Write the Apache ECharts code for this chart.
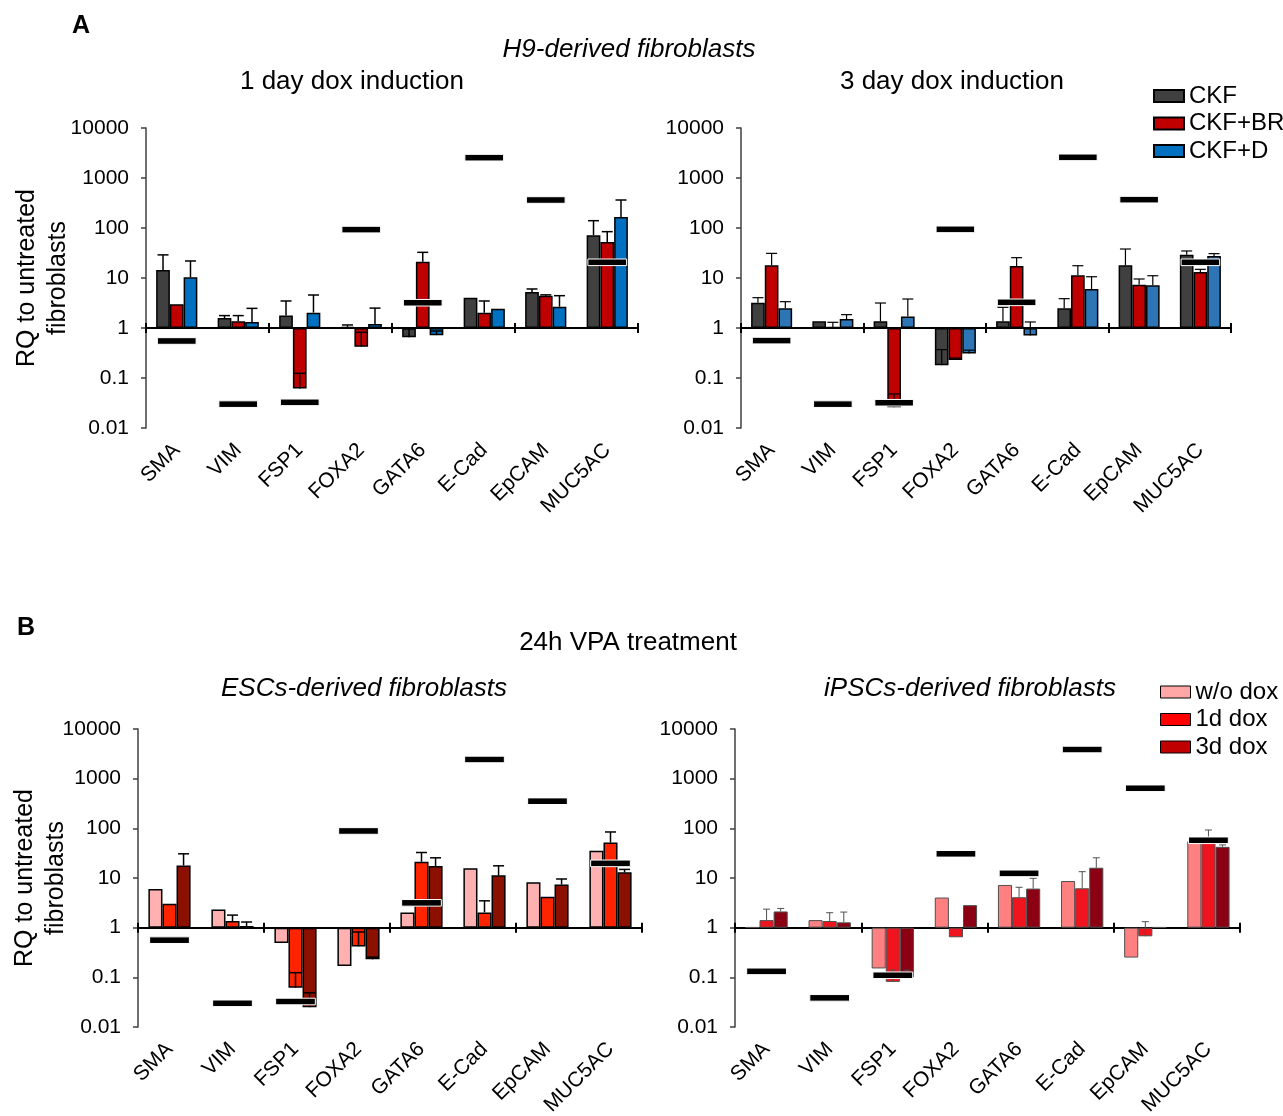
<!DOCTYPE html>
<html>
<head>
<meta charset="utf-8">
<script src="https://cdn.jsdelivr.net/npm/echarts@6/dist/echarts.min.js"></script>
<style>html,body{margin:0;padding:0;background:#fff;}#c{width:1283px;height:1116px;}</style>
</head>
<body>
<div id="c"></div>
<script>
// ---------- DATA ----------
const genes = ['SMA','VIM','FSP1','FOXA2','GATA6','E-Cad','EpCAM','MUC5AC'];
const yTickLabels = ['0.01','0.1','1','10','100','1000','10000'];
const legendA = ['CKF','CKF+BR','CKF+D'];
const legendB = ['w/o dox','1d dox','3d dox'];

// Panel A, 1 day dox induction
const a1CKF    = [14.5, 1.58, 1.77, 1.05, 0.65, 4.04, 5.25, 72];
const a1CKFErr = [29, 1.77, 3.47, 1.15, 0.97, null, 6.03, 140];
const a1BR     = [3.0, 1.36, 0.062, 0.42, 21.2, 2.03, 4.43, 52.5];
const a1BRErr  = [null, 1.77, 0.124, 0.82, 32.6, 3.47, 4.6, 84.5];
const a1D      = [10.3, 1.32, 2.03, 1.2, 0.72, 2.44, 2.67, 166];
const a1DErr   = [21.9, 2.47, 4.57, 2.5, 0.87, null, 4.43, 363];
const a1Ref    = [0.55, 0.030, 0.0326, 93, 3.2, 2550, 363, 20.6];

// Panel A, 3 day dox induction
const a2CKF    = [3.21, 1.36, 1.36, 0.18, 1.36, 2.47, 17.9, 29.3];
const a2CKFErr = [4.04, null, 3.16, 0.37, 2.59, 3.86, 38, 34.7];
const a2BR     = [17.9, 1.04, 0.026, 0.23, 17.4, 11.3, 7.36, 13.2];
const a2BRErr  = [31.1, 1.3, 0.048, 0.25, 25.5, 17.6, 9.55, 14.9];
const a2D      = [2.47, 1.51, 1.69, 0.31, 0.71, 6.03, 7.13, 27.5];
const a2DErr   = [3.36, 1.85, 3.8, 0.36, 1.32, 10.6, 11.1, 30.7];
const a2Ref    = [0.56, 0.030, 0.032, 94, 3.26, 2590, 369, 20.6];

// Panel B, ESCs-derived fibroblasts
const b1Wo     = [6.03, 2.33, 0.49, 0.17, 2.03, 15.8, 8.2, 35.2];
const b1WoErr  = [null, null, null, null, null, null, null, null];
const b1D1     = [3.02, 1.36, 0.062, 0.42, 21.2, 2.03, 4.17, 51.7];
const b1D1Err  = [null, 1.79, 0.124, 0.82, 32.6, 3.47, null, 84.5];
const b1D3     = [17.9, 1.08, 0.025, 0.23, 17.4, 11.3, 7.36, 13];
const b1D3Err  = [30.7, 1.3, 0.049, 0.255, 25.5, 17.6, 9.55, 14.9];
const b1Ref    = [0.56, 0.030, 0.0326, 88.5, 3.16, 2436, 352, 19.7];

// Panel B, iPSCs-derived fibroblasts
const b2Wo     = [1.02, 1.42, 0.151, 4.04, 7.24, 8.7, 0.25, 55];
const b2WoErr  = [null, null, null, null, null, null, null, null];
const b2D1     = [1.42, 1.36, 0.081, 0.64, 4.1, 6.21, 0.67, 55];
const b2D1Err  = [2.36, 2.0, 0.14, null, 6.5, 13.4, 1.32, 92.6];
const b2D3     = [2.12, 1.28, 0.10, 2.84, 6.12, 16.1, 1.02, 42.4];
const b2D3Err  = [2.44, 2.06, 0.14, null, 9.85, 25.5, null, 46.4];
const b2Ref    = [0.132, 0.0386, 0.11, 30.7, 12.4, 3863, 641, 57.5];

// ---------- BUILD ----------
const FONT = '"Liberation Sans", Arial, Helvetica, sans-serif';
const lg = v => Math.log10(v);

const grids = [
  {left:146, top:128, width:492, height:300},
  {left:741, top:128, width:490, height:300},
  {left:138, top:729, width:504, height:298},
  {left:735, top:729, width:505, height:298}
];

const xAxes = [], yAxes = [], series = [];

grids.forEach((g, k) => {
  xAxes.push({gridIndex:k, type:'category', data:genes, position:'bottom',
    axisLine:{onZero:true, onZeroAxisIndex:k, lineStyle:{color:'#000', width:2}},
    axisTick:{show:true, length:5, lineStyle:{color:'#000', width:2}},
    axisLabel:{show:false}, splitLine:{show:false}});
  xAxes.push({gridIndex:k, type:'category', data:genes, position:'top',
    axisLine:{onZero:true, onZeroAxisIndex:k, show:false},
    axisTick:{show:true, length:5, lineStyle:{color:'#000', width:2}},
    axisLabel:{show:false}, splitLine:{show:false}});
  xAxes.push({gridIndex:k, type:'category', data:genes, position:'bottom',
    axisLine:{onZero:false, show:false}, axisTick:{show:false},
    axisLabel:{show:true, interval:0, rotate:45, fontSize:21, margin:19, color:'#000', fontFamily:FONT},
    splitLine:{show:false}});
  const y = {gridIndex:k, type:'value', min:-2, max:4, interval:1,
    axisLine:{show:true, lineStyle:{color:'#404040', width:1.5}},
    axisTick:{show:true, length:5, lineStyle:{color:'#404040', width:1.5}},
    axisLabel:{fontSize:21, color:'#000', margin:17, fontFamily:FONT,
      formatter: v => yTickLabels[Math.round(v) + 2]},
    splitLine:{show:false}};
  if (k === 0 || k === 2) {
    y.name = 'RQ to untreated\nfibroblasts';
    y.nameLocation = 'middle';
    y.nameMoveOverlap = false;
    y.nameGap = k === 0 ? 72 : 66;
    y.nameTextStyle = {fontSize:25, lineHeight:31, color:'#000', fontFamily:FONT};
  }
  yAxes.push(y);
});

function addBars(k, name, vals, color, border, bw) {
  series.push({type:'bar', name, xAxisIndex:3*k, yAxisIndex:k,
    data: vals.map(v => lg(v)), barCategoryGap:'33%', barGap:'0%', z:2,
    itemStyle:{color, borderColor:border, borderWidth:bw}, emphasis:{disabled:true}});
}
function addErr(k, slot, vals, tops, color, w, cap) {
  const data = [];
  vals.forEach((v, j) => { if (tops[j] != null) data.push([j, lg(v), lg(tops[j])]); });
  series.push({type:'custom', xAxisIndex:3*k, yAxisIndex:k, z:3, data,
    encode:{x:0, y:[1,2]}, silent:true,
    renderItem: (params, api) => {
      const j = api.value(0);
      const p0 = api.coord([j, api.value(1)]);
      const p1 = api.coord([j, api.value(2)]);
      const catW = api.size([1, 0])[0];
      const bw = catW * 0.67 / 3;
      const cx = p0[0] + (slot - 1) * bw;
      return {type:'group', children:[
        {type:'line', shape:{x1:cx, y1:p0[1], x2:cx, y2:p1[1]}, style:{stroke:color, lineWidth:w}},
        {type:'line', shape:{x1:cx-cap, y1:p1[1], x2:cx+cap, y2:p1[1]}, style:{stroke:color, lineWidth:w}}
      ]};
    }});
}
function addRef(k, refs) {
  series.push({type:'custom', xAxisIndex:3*k, yAxisIndex:k, z:5, silent:true,
    data: refs.map((v, j) => [j, lg(v)]), encode:{x:0, y:1},
    renderItem: (params, api) => {
      const p = api.coord([api.value(0), api.value(1)]);
      const catW = api.size([1, 0])[0];
      const w = catW * 0.63;
      return {type:'rect', shape:{x:p[0]-w/2, y:p[1]-3.3, width:w, height:6.6},
        style:{fill:'#000', stroke:'#fff', lineWidth:1}};
    }});
}

// A1
addBars(0, legendA[0], a1CKF, '#404040', '#000', 1.5);
addBars(0, legendA[1], a1BR, '#c00000', '#000', 1.5);
addBars(0, legendA[2], a1D, '#0070c0', '#000', 1.5);
addErr(0, 0, a1CKF, a1CKFErr, '#000', 1.5, 5.5);
addErr(0, 1, a1BR, a1BRErr, '#000', 1.5, 5.5);
addErr(0, 2, a1D, a1DErr, '#000', 1.5, 5.5);
addRef(0, a1Ref);
// A2
addBars(1, legendA[0], a2CKF, '#404040', '#000', 1.5);
addBars(1, legendA[1], a2BR, '#c00000', '#000', 1.5);
addBars(1, legendA[2], a2D, '#2e75b6', '#000', 1.5);
addErr(1, 0, a2CKF, a2CKFErr, '#000', 1.2, 5.5);
addErr(1, 1, a2BR, a2BRErr, '#000', 1.2, 5.5);
addErr(1, 2, a2D, a2DErr, '#000', 1.2, 5.5);
addRef(1, a2Ref);
// B1
addBars(2, legendB[0], b1Wo, '#ffb0b0', '#000', 1.5);
addBars(2, legendB[1], b1D1, '#ff2400', '#000', 1.5);
addBars(2, legendB[2], b1D3, '#8b1000', '#000', 1.5);
addErr(2, 0, b1Wo, b1WoErr, '#000', 1.5, 5.5);
addErr(2, 1, b1D1, b1D1Err, '#000', 1.5, 5.5);
addErr(2, 2, b1D3, b1D3Err, '#000', 1.5, 5.5);
addRef(2, b1Ref);
// B2
addBars(3, legendB[0], b2Wo, '#ff8080', '#505050', 1);
addBars(3, legendB[1], b2D1, '#f0141e', '#505050', 1);
addBars(3, legendB[2], b2D3, '#8b0012', '#505050', 1);
addErr(3, 0, b2Wo, b2WoErr, '#505050', 1, 3.5);
addErr(3, 1, b2D1, b2D1Err, '#505050', 1, 3.5);
addErr(3, 2, b2D3, b2D3Err, '#505050', 1, 3.5);
addRef(3, b2Ref);

function txt(x, y, s, opt) {
  return {type:'text', x, y, style:Object.assign({text:s, fontSize:26, fontFamily:FONT, fill:'#000',
    textAlign:'center', textVerticalAlign:'middle'}, opt || {})};
}

const option = {
  animation:false,
  textStyle:{fontFamily:FONT},
  grid: grids.map(g => Object.assign({containLabel:false, outerBoundsMode:'none'}, g)),
  xAxis: xAxes,
  yAxis: yAxes,
  legend: [
    {left:1153, top:84, padding:0, orient:'vertical', data:legendA, icon:'rect', itemWidth:30, itemHeight:12,
      itemGap:3.5, selectedMode:false, textStyle:{fontSize:24, color:'#000', fontFamily:FONT}},
    {left:1160, top:680, padding:0, orient:'vertical', icon:'rect', itemWidth:30, itemHeight:12,
      itemGap:3.5, selectedMode:false, textStyle:{fontSize:24, color:'#000', fontFamily:FONT},
      data:[
        {name:legendB[0], itemStyle:{color:'#ffa6a6', borderColor:'#000', borderWidth:1}},
        {name:legendB[1], itemStyle:{color:'#ff0000', borderColor:'#000', borderWidth:1}},
        {name:legendB[2], itemStyle:{color:'#c00000', borderColor:'#000', borderWidth:1}}
      ]}
  ],
  graphic: [
    txt(72, 26, 'A', {textAlign:'left', fontWeight:'bold', fontSize:25}),
    txt(629, 50, 'H9-derived fibroblasts', {fontStyle:'italic'}),
    txt(352, 82, '1 day dox induction'),
    txt(952, 82, '3 day dox induction'),
    txt(17, 628, 'B', {textAlign:'left', fontWeight:'bold', fontSize:25}),
    txt(628, 643, '24h VPA treatment'),
    txt(364, 689, 'ESCs-derived fibroblasts', {fontStyle:'italic'}),
    txt(970, 689, 'iPSCs-derived fibroblasts', {fontStyle:'italic'})
  ],
  series
};

const chart = echarts.init(document.getElementById('c'), null, {renderer:'canvas'});
chart.setOption(option);
</script>
</body>
</html>
